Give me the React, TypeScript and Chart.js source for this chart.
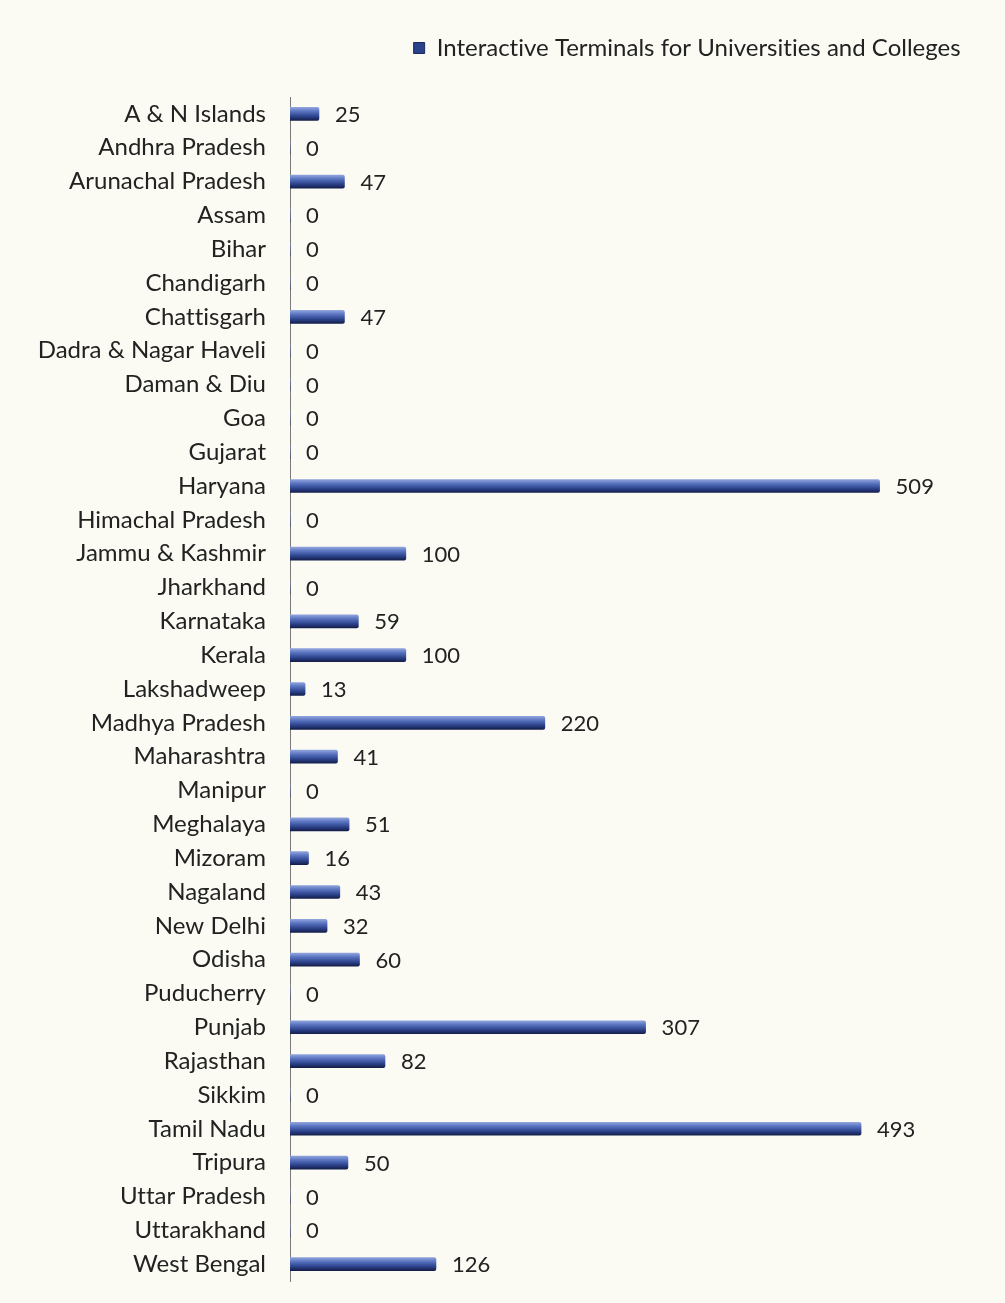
import { useEffect, useRef } from "react";
import { Chart, registerables } from "chart.js";

Chart.register(...registerables);

const categories = [
  "A & N Islands", "Andhra Pradesh", "Arunachal Pradesh", "Assam", "Bihar", "Chandigarh",
  "Chattisgarh", "Dadra & Nagar Haveli", "Daman & Diu", "Goa", "Gujarat", "Haryana",
  "Himachal Pradesh", "Jammu & Kashmir", "Jharkhand", "Karnataka", "Kerala", "Lakshadweep",
  "Madhya Pradesh", "Maharashtra", "Manipur", "Meghalaya", "Mizoram", "Nagaland", "New Delhi",
  "Odisha", "Puducherry", "Punjab", "Rajasthan", "Sikkim", "Tamil Nadu", "Tripura",
  "Uttar Pradesh", "Uttarakhand", "West Bengal",
];

const terminals = [
  25, 0, 47, 0, 0, 0, 47, 0, 0, 0, 0, 509, 0, 100, 0, 59, 100, 13, 220, 41, 0, 51, 16, 43, 32,
  60, 0, 307, 82, 0, 493, 50, 0, 0, 126,
];

const seriesLabel = "Interactive Terminals for Universities and Colleges";

const FONT = "Lato, 'Open Sans', sans-serif";

const valueLabels = {
  id: "valueLabels",
  afterDatasetsDraw(chart: any) {
    const ctx = chart.ctx;
    const meta = chart.getDatasetMeta(0);
    ctx.save();
    ctx.font = `22px ${FONT}`;
    ctx.fillStyle = "#222222";
    ctx.textAlign = "left";
    ctx.textBaseline = "middle";
    meta.data.forEach((bar: any, i: number) => {
      ctx.fillText(String(terminals[i]), bar.x + 16, bar.y + 1);
    });
    ctx.restore();
  },
};

const bgPlugin = {
  id: "bg",
  beforeInit(chart: any) {
    const lg = chart.legend;
    if (lg && !lg.__patched) {
      const orig = lg.fit.bind(lg);
      lg.fit = function () {
        orig();
        this.height += 27;
      };
      lg.__patched = true;
    }
  },
  beforeDraw(chart: any) {
    const ctx = chart.ctx;
    ctx.save();
    ctx.fillStyle = "#fbfbf4";
    ctx.fillRect(0, 0, chart.width, chart.height);
    ctx.restore();
    try {
      (ctx as any).letterSpacing = "0.01px";
    } catch (e) {}
  },
};

export default function App() {
  const ref = useRef<HTMLCanvasElement>(null);
  useEffect(() => {
    if (!ref.current) return;
    const chart = new Chart(ref.current, {
      type: "bar",
      data: {
        labels: categories,
        datasets: [
          {
            label: seriesLabel,
            data: terminals,
            barThickness: 13,
            borderRadius: 2,
            backgroundColor: (c: any) => {
              const ch = c.chart;
              const y = ch.scales?.y;
              if (!y || c.dataIndex === undefined) return "#2f4a94";
              const py = y.getPixelForValue(c.dataIndex);
              if (!isFinite(py)) return "#2f4a94";
              const g = ch.ctx.createLinearGradient(0, py - 6.5, 0, py + 6.5);
              g.addColorStop(0, "#8fa3dc");
              g.addColorStop(0.3, "#5a74c0");
              g.addColorStop(0.7, "#2b418a");
              g.addColorStop(1, "#141f4a");
              return g;
            },
          },
        ],
      },
      options: {
        indexAxis: "y",
        animation: false,
        responsive: false,
        layout: { padding: { left: 8, right: 20, top: 12, bottom: 22 } },
        plugins: {
          legend: {
            display: true,
            align: "end",
            labels: {
              font: { family: FONT, size: 24 },
              color: "#222222",
              boxWidth: 11,
              boxHeight: 11,
              padding: 24,
              generateLabels: () => [
                {
                  text: seriesLabel,
                  fillStyle: "#2b418a",
                  strokeStyle: "#1a2a5c",
                  lineWidth: 1,
                  hidden: false,
                  datasetIndex: 0,
                  fontColor: "#222222",
                },
              ],
            },
          },
          tooltip: { enabled: false },
        },
        scales: {
          x: {
            min: 0,
            max: 600,
            display: false,
            grid: { display: false },
          },
          y: {
            grid: { display: false, drawTicks: false },
            border: { display: true, color: "#7a7a7a", width: 1 },
            ticks: {
              font: { family: FONT, size: 24 },
              color: "#222222",
              padding: 24,
              autoSkip: false,
            },
            afterFit: (s: any) => {
              s.width = 282;
              s.paddingTop = 0;
              s.paddingBottom = 0;
            },
          },
        },
      },
      plugins: [bgPlugin, valueLabels],
    });
    return () => chart.destroy();
  }, []);
  return (
    <div style={{ position: "absolute", left: 0, top: 0, width: 1005, height: 1303 }}>
      <canvas ref={ref} width={1005} height={1303} style={{ display: "block" }} />
    </div>
  );
}
